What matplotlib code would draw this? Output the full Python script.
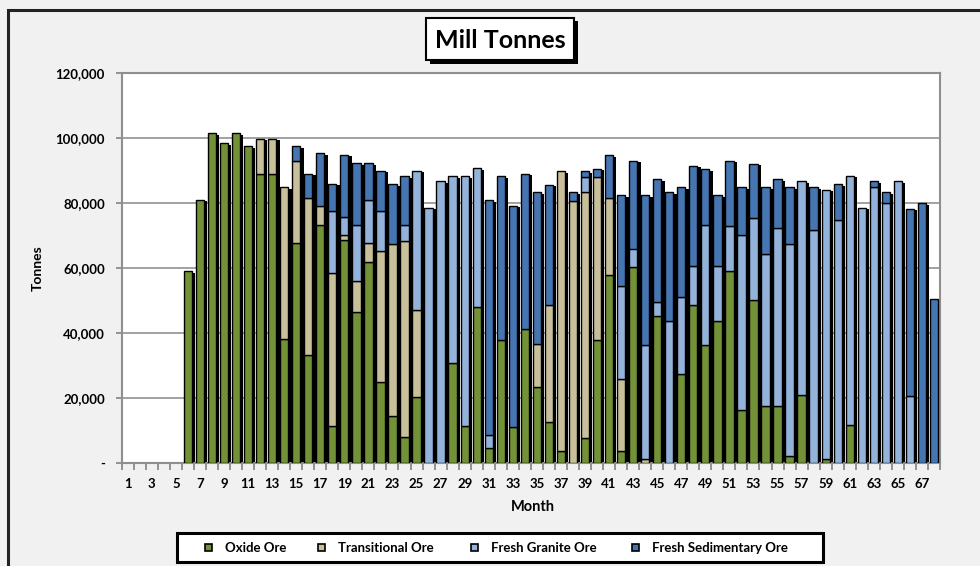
import matplotlib
matplotlib.use("Agg")
import matplotlib.pyplot as plt
from matplotlib.patches import Rectangle
from matplotlib.ticker import FixedLocator
import numpy as np

# Monthly mill feed by ore type (tonnes)
months = list(range(1, 69))

oxide_ore = [
    0, 0, 0, 0, 0, 59000, 81000, 101500, 98500, 101500,
    97500, 89000, 89000, 38300, 67700, 33300, 73100, 11300, 68700, 46400,
    61800, 24800, 14400, 7900, 20200, 0, 0, 30800, 11300, 47900,
    4600, 37900, 11000, 41200, 23400, 12500, 3600, 0, 7700, 37900,
    57700, 3600, 60300, 0, 45300, 0, 27400, 48700, 36200, 43800,
    59200, 16400, 50300, 17400, 17400, 2100, 20800, 0, 1300, 0,
    11800, 0, 0, 0, 0, 0, 0, 0,
]
transitional_ore = [
    0, 0, 0, 0, 0, 0, 0, 0, 0, 0,
    0, 10800, 10800, 46500, 25300, 48200, 5900, 47200, 1600, 9700,
    5900, 40500, 53000, 60500, 27000, 0, 0, 0, 0, 0,
    0, 0, 0, 0, 13200, 36200, 86100, 80500, 75600, 50100,
    23800, 22200, 0, 1300, 0, 0, 0, 0, 0, 0,
    0, 0, 0, 0, 0, 0, 0, 0, 0, 0,
    0, 0, 0, 0, 0, 0, 0, 0,
]
fresh_granite_ore = [
    0, 0, 0, 0, 0, 0, 0, 0, 0, 0,
    0, 0, 0, 0, 0, 0, 0, 19000, 5300, 17000,
    13100, 12300, 0, 4900, 42700, 78500, 86700, 57400, 76900, 42900,
    4100, 0, 0, 0, 0, 0, 0, 0, 4700, 0,
    0, 28800, 5700, 34900, 4100, 43800, 23600, 12000, 37100, 16900,
    13800, 53700, 25100, 46900, 54900, 65300, 65900, 71800, 82800, 74900,
    76600, 78500, 84800, 80000, 86700, 20500, 0, 0,
]
fresh_sedimentary_ore = [
    0, 0, 0, 0, 0, 0, 0, 0, 0, 0,
    0, 0, 0, 0, 4400, 7500, 16400, 8400, 19300, 19200,
    11500, 12300, 18400, 14900, 0, 0, 0, 0, 0, 0,
    72100, 50300, 68200, 47800, 46700, 36900, 0, 2800, 1700, 2600,
    13200, 27800, 27000, 46200, 38000, 39500, 33900, 30800, 17200, 21700,
    20000, 14700, 16700, 20500, 15100, 17400, 0, 13000, 0, 10900,
    0, 0, 1900, 3400, 0, 57700, 80000, 50500,
]

series_names = ["Oxide Ore", "Transitional Ore", "Fresh Granite Ore", "Fresh Sedimentary Ore"]
series_values = [oxide_ore, transitional_ore, fresh_granite_ore, fresh_sedimentary_ore]
series_colors = ["#739136", "#c8c09a", "#93b3da", "#4676b2"]

y_ticks = [0, 20000, 40000, 60000, 80000, 100000, 120000]
y_tick_labels = ["-", "20,000", "40,000", "60,000", "80,000", "100,000", "120,000"]

FONT = ["Lato", "DejaVu Sans"]
plt.rcParams["font.family"] = FONT
plt.rcParams["font.weight"] = "bold"

W, H = 980, 566
fig = plt.figure(figsize=(W / 100, H / 100), dpi=100)
fig.patch.set_facecolor("#f1f1f1")


def fx(px):
    return px / W


def fy(py):
    return 1 - py / H


ax = fig.add_axes([fx(121.7), fy(463), fx(940) - fx(121.7), fy(73) - fy(463)])
ax.set_facecolor("white")

x = np.array(months, dtype=float)
bar_w = 0.69
values = np.array(series_values, dtype=float)
totals = values.sum(axis=0)

# drop shadow behind each stacked column
has_feed = totals > 0
ax.bar(x[has_feed] + 0.27, totals[has_feed] - 500, width=bar_w, color="black",
       edgecolor="none", zorder=2)

bottom = np.zeros(len(months))
for name, v, col in zip(series_names, values, series_colors):
    nz = v > 0
    ax.bar(x[nz], v[nz], width=bar_w, bottom=bottom[nz], color=col,
           edgecolor="black", linewidth=1.0, zorder=3, label=name)
    bottom += v

ax.set_xlim(0.5, 68.5)
ax.set_ylim(0, 120000)

ax.set_yticks(y_ticks)
ax.set_yticklabels(y_tick_labels)
ax.yaxis.grid(True, color="#9a9a9a", linewidth=1.3, zorder=0)
ax.set_axisbelow(True)

ax.set_xticks(months[::2])
ax.set_xticklabels([str(m) for m in months[::2]])
ax.xaxis.set_minor_locator(FixedLocator(np.arange(0.5, 69.0, 1.0)))
ax.tick_params(axis="x", which="major", length=0, pad=11, labelsize=9.5)
ax.tick_params(axis="x", which="minor", length=5, width=1.3, color="#8a8a8a")
ax.tick_params(axis="y", which="major", length=4, width=1.3, color="#8a8a8a",
               pad=8, labelsize=9.5)

for side in ["left", "bottom", "top", "right"]:
    ax.spines[side].set_color("#8f8f8f")
    ax.spines[side].set_linewidth(1.5)

fig.text(fx(38), fy(268), "Tonnes", rotation=90, ha="center", va="center",
         fontsize=10, fontweight="bold")
fig.text(fx(533), fy(507), "Month", ha="center", va="center",
         fontsize=10.5, fontweight="bold")

# title box with shadow
fig.add_artist(Rectangle((fx(430), fy(64)), fx(148), 43 / H, transform=fig.transFigure,
                         facecolor="black", edgecolor="none", zorder=5))
fig.add_artist(Rectangle((fx(426), fy(60)), fx(148), 42 / H, transform=fig.transFigure,
                         facecolor="white", edgecolor="black", linewidth=1.5, zorder=6))
fig.text(fx(500), fy(40), "Mill Tonnes", ha="center", va="center",
         fontsize=18, fontweight="bold", zorder=7)

# outer chart border
fig.add_artist(Rectangle((fx(8), fy(575)), fx(990), 565 / H, transform=fig.transFigure,
                         facecolor="none", edgecolor="#222222", linewidth=2.2, zorder=1))

# legend box
fig.add_artist(Rectangle((fx(177), fy(562)), fx(646), 29 / H, transform=fig.transFigure,
                         facecolor="white", edgecolor="black", linewidth=2.2, zorder=5))
legend_marker_x = [208, 321, 474, 635]
for mx, name, col in zip(legend_marker_x, series_names, series_colors):
    fig.add_artist(Rectangle((fx(mx - 3.5), fy(551)), fx(7), 7 / H,
                             transform=fig.transFigure, facecolor=col,
                             edgecolor="black", linewidth=1.2, zorder=6))
    fig.text(fx(mx + 17), fy(547.5), name, ha="left", va="center",
             fontsize=9.5, fontweight="bold", zorder=7)

fig.savefig("out.png", dpi=100, facecolor=fig.get_facecolor())
